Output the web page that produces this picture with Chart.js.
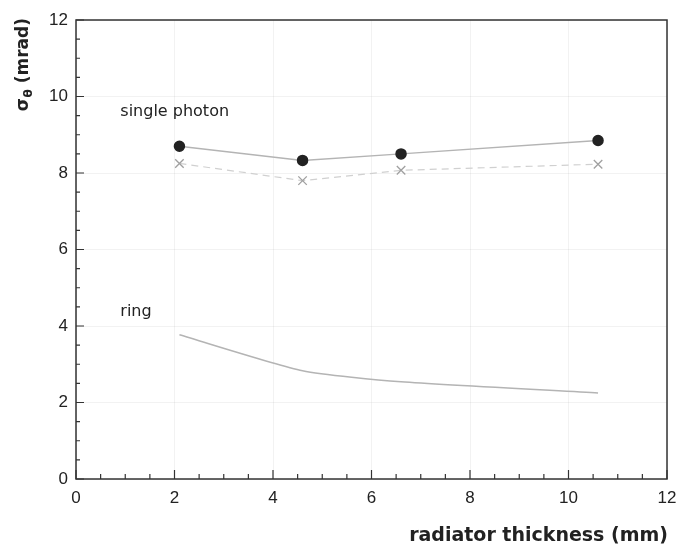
<!DOCTYPE html>
<html>
<head>
<meta charset="utf-8">
<script src="https://cdn.jsdelivr.net/npm/chart.js"></script>
<style>
  html, body { margin: 0; padding: 0; background: #fff; }
  #wrap { width: 676px; height: 547px; }
</style>
</head>
<body>
<div id="wrap"><canvas id="grafico" width="676" height="547"></canvas></div>
<script>
// --- Datos ---
const grosor = [2.1, 4.6, 6.6, 10.6];          // radiator thickness (mm)
const fotonPuntos = [8.7, 8.33, 8.5, 8.85];     // single photon, dots
const fotonCruces = [8.25, 7.8, 8.07, 8.23];    // single photon, crosses
const anillo = [3.77, 2.83, 2.54, 2.25];        // ring
const ticksX = [0, 2, 4, 6, 8, 10, 12];
const ticksY = [0, 2, 4, 6, 8, 10, 12];

const fuente = "'Liberation Sans', Arial, sans-serif";
const fuenteAncha = "'DejaVu Sans', sans-serif";

function pares(xs, ys) {
    return xs.map((x, i) => ({ x: x, y: ys[i] }));
}

// marcas hacia dentro, caja y textos
const marcoPlugin = {
    id: 'marco',
    afterDraw(chart) {
        const ctx = chart.ctx;
        const a = chart.chartArea;
        const sx = chart.scales.x, sy = chart.scales.y;
        ctx.save();
        ctx.strokeStyle = '#333';
        ctx.lineWidth = 1.5;
        ctx.strokeRect(a.left, a.top, a.right - a.left, a.bottom - a.top);

        ctx.lineWidth = 1.2;
        ctx.beginPath();
        for (let v = 0; v <= 12; v += 0.5) {
            const mayor = v % 2 === 0;
            const px = sx.getPixelForValue(v);
            ctx.moveTo(px, a.bottom);
            ctx.lineTo(px, a.bottom - (mayor ? 9 : 5));
            const py = sy.getPixelForValue(v);
            ctx.moveTo(a.left, py);
            ctx.lineTo(a.left + (mayor ? 8 : 4), py);
        }
        ctx.stroke();

        ctx.fillStyle = '#222';
        ctx.font = '16px ' + fuenteAncha;
        ctx.textBaseline = 'middle';
        ctx.textAlign = 'left';
        ctx.fillText('single photon', sx.getPixelForValue(0.9), sy.getPixelForValue(9.6));
        ctx.fillText('ring', sx.getPixelForValue(0.9), sy.getPixelForValue(4.37));

        // título eje x
        ctx.font = 'bold 19px ' + fuenteAncha;
        ctx.textAlign = 'right';
        ctx.textBaseline = 'alphabetic';
        ctx.fillText('radiator thickness (mm)', a.right + 1, 541);

        // título eje y, con θ como subíndice
        ctx.translate(28, a.top - 2);
        ctx.rotate(-Math.PI / 2);
        ctx.textAlign = 'right';
        ctx.font = 'bold 17px ' + fuenteAncha;
        const resto = ' (mrad)';
        ctx.fillText(resto, 0, 0);
        let x = -ctx.measureText(resto).width;
        ctx.font = 'bold 12px ' + fuenteAncha;
        ctx.fillText('θ', x, 4);
        x -= ctx.measureText('θ').width + 0.5;
        ctx.font = 'bold 17px ' + fuenteAncha;
        ctx.fillText('σ', x, 0);
        ctx.restore();
    }
};

new Chart(document.getElementById('grafico'), {
    type: 'line',
    data: {
        datasets: [
            {
                label: 'single photon',
                data: pares(grosor, fotonPuntos),
                borderColor: '#b4b4b4',
                borderWidth: 1.5,
                pointRadius: 5,
                pointBackgroundColor: '#222',
                pointBorderColor: '#222',
                tension: 0
            },
            {
                label: 'single photon (x)',
                data: pares(grosor, fotonCruces),
                borderColor: '#d0d0d0',
                borderWidth: 1.2,
                borderDash: [7, 5],
                pointStyle: 'crossRot',
                pointRadius: 6,
                pointBorderColor: '#a0a0a0',
                pointBorderWidth: 1.3,
                tension: 0
            },
            {
                label: 'ring',
                data: pares(grosor, anillo),
                borderColor: '#b4b4b4',
                borderWidth: 1.5,
                pointRadius: 0,
                tension: 0.2
            }
        ]
    },
    options: {
        responsive: false,
        animation: false,
        layout: { padding: { top: 20, right: 9, left: 0, bottom: 0 } },
        plugins: {
            legend: { display: false },
            tooltip: { enabled: false }
        },
        scales: {
            x: {
                type: 'linear',
                min: 0,
                max: 12,
                afterFit(scale) {
                    scale.height = 68;
                    scale.paddingLeft = 0;
                    scale.paddingRight = 0;
                },
                afterBuildTicks(scale) { scale.ticks = ticksX.map(v => ({ value: v })); },
                grid: { display: true, drawTicks: false, color: 'rgba(0,0,0,0.05)' },
                border: { display: false },
                ticks: {
                    color: '#222',
                    padding: 9,
                    font: { family: fuente, size: 17 }
                },
                title: { display: false }
            },
            y: {
                type: 'linear',
                min: 0,
                max: 12,
                afterFit(scale) {
                    scale.width = 76;
                    scale.paddingTop = 0;
                    scale.paddingBottom = 0;
                },
                afterBuildTicks(scale) { scale.ticks = ticksY.map(v => ({ value: v })); },
                grid: { display: true, drawTicks: false, color: 'rgba(0,0,0,0.05)' },
                border: { display: false },
                ticks: {
                    color: '#222',
                    padding: 8,
                    font: { family: fuente, size: 17 }
                },
                title: { display: false }
            }
        }
    },
    plugins: [marcoPlugin]
});
</script>
</body>
</html>
